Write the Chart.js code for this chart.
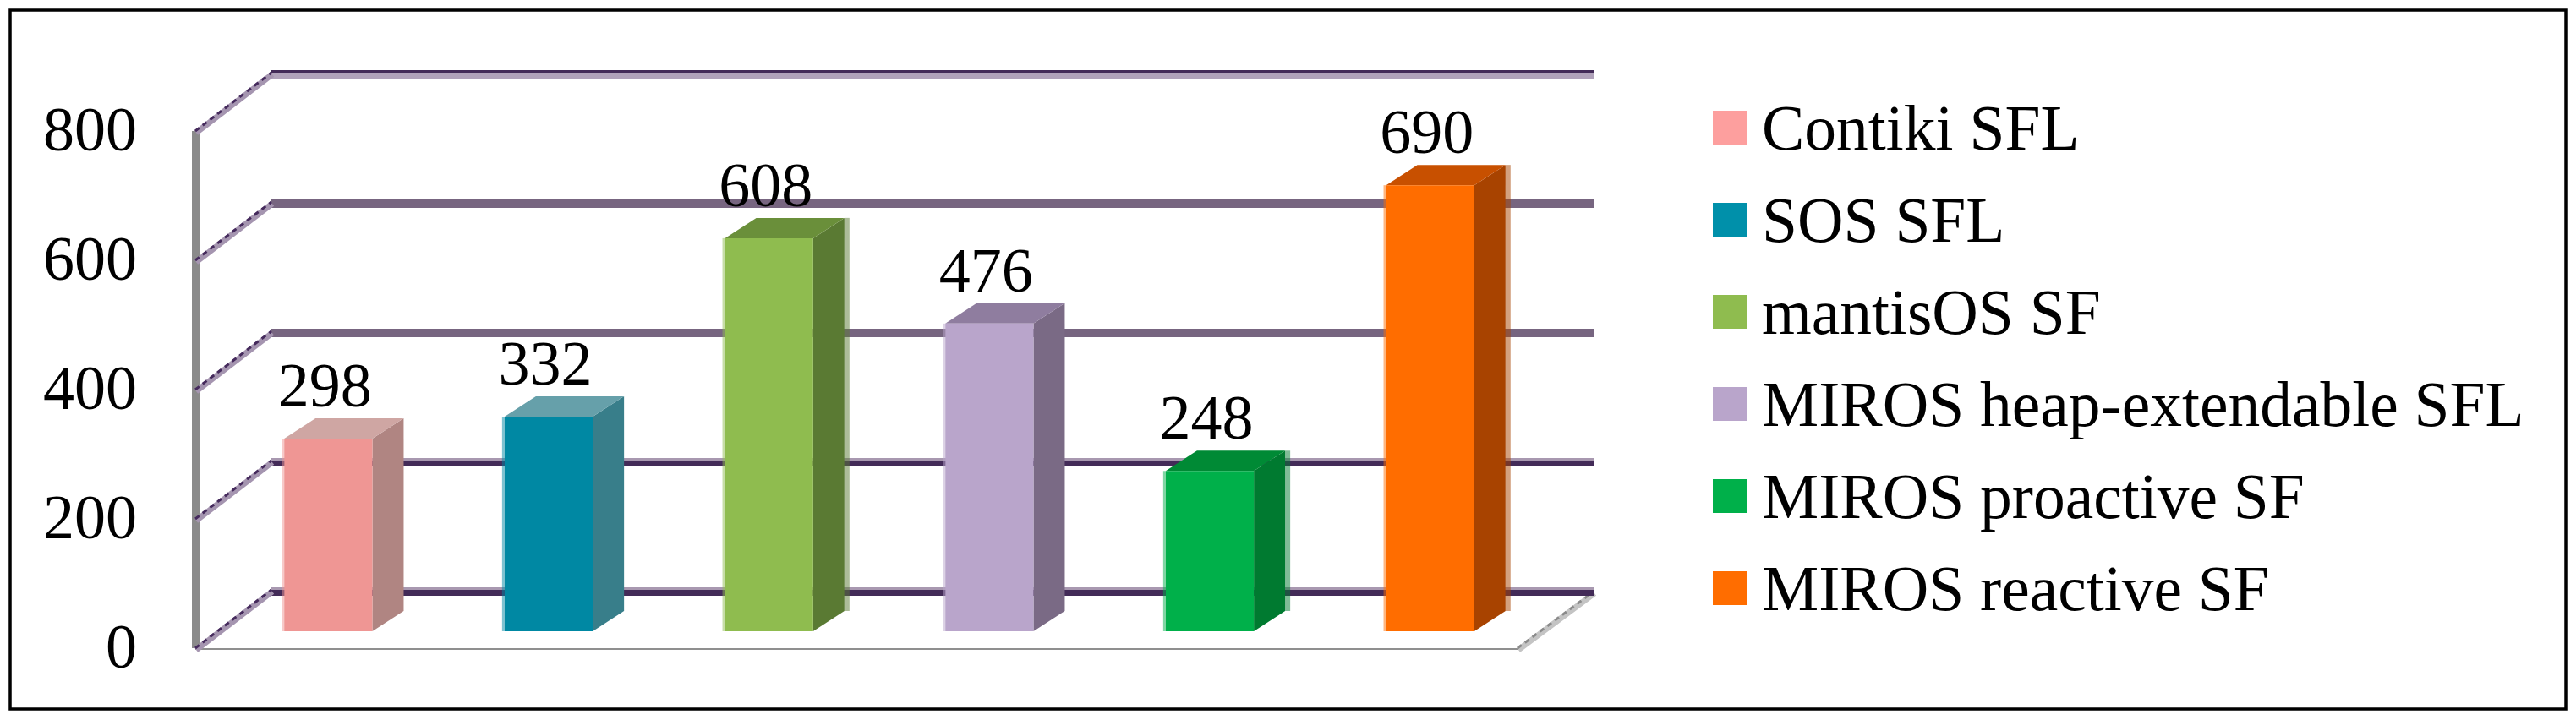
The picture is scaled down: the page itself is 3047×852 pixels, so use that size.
<!DOCTYPE html>
<html>
<head>
<meta charset="utf-8">
<title>Chart</title>
<script src="https://cdn.jsdelivr.net/npm/chart.js@4"></script>
<style>
    html, body { margin: 0; padding: 0; background: #ffffff; }
    canvas { display: block; }
</style>
</head>
<body>
<canvas id="chart" width="3047" height="852"></canvas>
<script>
//Values
const categories = ["Contiki SFL", "SOS SFL", "mantisOS SF", "MIROS heap-extendable SFL", "MIROS proactive SF", "MIROS reactive SF"];
const values = [298, 332, 608, 476, 248, 690];
const yTicks = [0, 200, 400, 600, 800];

//Bar faces
const frontColors = ["#ef9694", "#0088a3", "#8fbc4f", "#b9a5cb", "#00b04a", "#ff6d00"];
const sideColors = ["#b08582", "#387e8a", "#5a7a33", "#7a6a85", "#007a30", "#a84300"];
const topColors = ["#cfa6a3", "#66a0aa", "#6a8f3a", "#8f7d9f", "#008a35", "#c85000"];
const legendColors = ["#fd9f9e", "#0090aa", "#8fbc4f", "#b9a5cb", "#00b04a", "#ff6d00"];
//Only some bars have the see-through strip on the right of the side face
const sideStrip = [false, false, true, false, true, true];

const font = "Liberation Serif";
const fontSize = 74;
const legendFontSize = 75.5;

//Offsets of the fake 3D box, measured from the plane the bars stand in
const front = {dx: -27, dy: 20};
const back = {dx: 63, dy: -47};
const barDepth = {dx: 37, dy: -24};

//Back wall line colours, by tick: [top colour, top height, bottom colour, bottom height]
const gridBands = {
    0: ["#a898b0", 3, "#432b58", 7],
    200: ["#a898b0", 3, "#432b58", 7],
    400: ["#776580", 5, "#776580", 5],
    600: ["#776580", 5, "#776580", 5],
    800: ["#432b58", 3, "#b0a2ba", 7],
};

function slant(ctx, x1, y1, x2, y2, light, dark){
    ctx.lineCap = "butt";
    ctx.strokeStyle = light;
    ctx.lineWidth = 7;
    ctx.beginPath();
    ctx.moveTo(x1 + 1, y1 + 2);
    ctx.lineTo(x2 + 1, y2 + 2);
    ctx.stroke();
    ctx.strokeStyle = dark;
    ctx.lineWidth = 3;
    ctx.setLineDash([6, 5]);
    ctx.beginPath();
    ctx.moveTo(x1, y1);
    ctx.lineTo(x2, y2);
    ctx.stroke();
    ctx.setLineDash([]);
}

//Walls, floor and the sides of the bars, all behind the bar fronts
const box3d = {
    id: "box3d",
    beforeDatasetsDraw(chart){
        const {ctx, chartArea, scales: {y}} = chart;
        const left = chartArea.left, right = chartArea.right;
        const floorFront = y.getPixelForValue(0) + front.dy;
        const floorBack = y.getPixelForValue(0) + back.dy;
        ctx.save();

        //page frame
        ctx.strokeStyle = "#000000";
        ctx.lineWidth = 3.5;
        ctx.strokeRect(12, 12, 3023, 827);

        //left wall edge
        ctx.fillStyle = "#8a8a8a";
        ctx.fillRect(left + front.dx - 4, y.getPixelForValue(800) + front.dy, 9, floorFront - y.getPixelForValue(800) - front.dy);

        //floor
        ctx.fillStyle = "#8f8f8f";
        ctx.fillRect(left + front.dx, floorFront, right - left, 2);
        slant(ctx, right + front.dx, floorFront, right + back.dx, floorBack, "#c4c4c4", "#8a8a8a");

        yTicks.forEach(t => {
            const p = y.getPixelForValue(t);
            const by = p + back.dy;
            const b = gridBands[t];
            ctx.fillStyle = b[0];
            ctx.fillRect(left + back.dx, by - 5, right - left + 1, b[1]);
            ctx.fillStyle = b[2];
            ctx.fillRect(left + back.dx, by - 5 + b[1], right - left + 1, b[3]);
            slant(ctx, left + front.dx, p + front.dy, left + back.dx, by - 2, "#a595b0", "#452a5c");
        });

        //bar sides and tops
        chart.getDatasetMeta(0).data.forEach((bar, i) => {
            const l = bar.x - bar.width / 2, r = bar.x + bar.width / 2;
            ctx.globalAlpha = 0.5;
            ctx.fillStyle = frontColors[i];
            ctx.fillRect(l - 3, bar.y, 3, bar.base - bar.y);
            ctx.fillStyle = sideColors[i];
            if(sideStrip[i]){
                ctx.fillRect(r + barDepth.dx, bar.y + barDepth.dy, 6, bar.base - bar.y);
            }
            ctx.globalAlpha = 1;
            ctx.beginPath();
            ctx.moveTo(r, bar.y);
            ctx.lineTo(r + barDepth.dx, bar.y + barDepth.dy);
            ctx.lineTo(r + barDepth.dx, bar.base + barDepth.dy);
            ctx.lineTo(r, bar.base);
            ctx.closePath();
            ctx.fill();
            ctx.fillStyle = topColors[i];
            ctx.beginPath();
            ctx.moveTo(l, bar.y);
            ctx.lineTo(l + barDepth.dx, bar.y + barDepth.dy);
            ctx.lineTo(r + barDepth.dx, bar.y + barDepth.dy);
            ctx.lineTo(r, bar.y);
            ctx.closePath();
            ctx.fill();
        });
        ctx.restore();
    },
    afterDatasetsDraw(chart){
        const {ctx} = chart;
        ctx.save();
        ctx.fillStyle = "#000000";
        ctx.font = `${fontSize}px "${font}"`;
        ctx.textAlign = "center";
        ctx.textBaseline = "alphabetic";
        chart.getDatasetMeta(0).data.forEach((bar, i) => {
            ctx.fillText(String(values[i]), bar.x - 4, bar.y - 38);
        });
        ctx.restore();
    },
};

//Legend is drawn by hand, the built-in one forces too wide a gap after the swatch
const sideLegend = {
    id: "sideLegend",
    afterDraw(chart){
        const {ctx} = chart;
        const rowTop = 151, rowStep = 109;
        ctx.save();
        ctx.font = `${legendFontSize}px "${font}"`;
        ctx.textAlign = "left";
        ctx.textBaseline = "middle";
        categories.forEach((c, i) => {
            const rowY = rowTop + rowStep * i;
            ctx.fillStyle = legendColors[i];
            ctx.fillRect(2026, rowY - 20, 40, 40);
            ctx.fillStyle = "#000000";
            ctx.fillText(c, 2084, rowY + 6);
        });
        ctx.restore();
    },
};

let barChart = new Chart("chart", {
    type: "bar",
    data: {
        labels: categories,
        datasets: [{
            data: values,
            backgroundColor: frontColors,
            barPercentage: 0.4,
            categoryPercentage: 1,
        }],
    },
    options: {
        responsive: false,
        animation: false,
        layout: {
            padding: {left: 0, right: 1225, top: 135, bottom: 105},
        },
        plugins: {
            legend: {display: false},
            title: {display: false},
            tooltip: {enabled: false},
        },
        scales: {
            x: {display: false},
            y: {
                min: 0,
                max: 800,
                afterBuildTicks: axis => { axis.ticks = yTicks.map(v => ({value: v})); },
                //fixed width, and no extra room for the half labels at both ends
                afterFit: axis => {
                    axis.width = 258;
                    axis.paddingTop = 0;
                    axis.paddingBottom = 0;
                },
                border: {display: false},
                grid: {display: false, drawTicks: false},
                ticks: {
                    color: "#000000",
                    font: {family: font, size: fontSize},
                    padding: 96,
                    labelOffset: 24,
                },
            },
        },
    },
    plugins: [box3d, sideLegend],
});
</script>
</body>
</html>
